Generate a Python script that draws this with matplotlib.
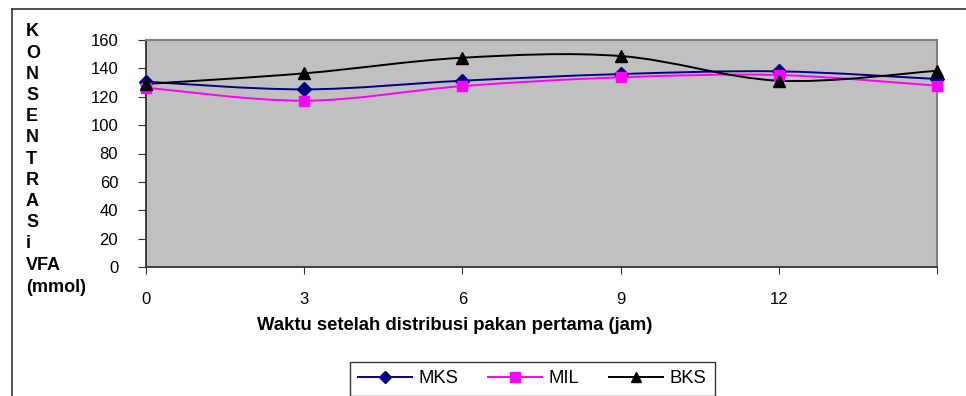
import numpy as np
import matplotlib
matplotlib.use("Agg")
import matplotlib.pyplot as plt
from matplotlib.path import Path
from matplotlib.patches import PathPatch
from matplotlib.lines import Line2D

plt.rcParams['font.family'] = ['Liberation Sans', 'DejaVu Sans']

# data
jam = [0, 3, 6, 9, 12, 15]
x_labels = ["0", "3", "6", "9", "12", ""]
mks = [130.6, 125.2, 131.3, 136.0, 137.9, 132.5]
mil = [126.4, 117.2, 127.5, 133.7, 135.3, 127.8]
bks = [129.0, 136.5, 147.5, 148.7, 131.3, 138.3]

ylabel_lines = ["K", "O", "N", "S", "E", "N", "T", "R", "A", "S", "i", "VFA", "(mmol)"]


def smooth_path(xs, ys):
    # excel-like smoothed line: cubic bezier through every point
    pts = np.column_stack([xs, ys]).astype(float)
    n = len(pts)
    verts = [pts[0]]
    codes = [Path.MOVETO]
    for i in range(n - 1):
        p0 = pts[i - 1] if i > 0 else pts[i]
        p1 = pts[i]
        p2 = pts[i + 1]
        p3 = pts[i + 2] if i + 2 < n else pts[i + 1]
        c1 = p1 + (p2 - p0) / 6.0
        c2 = p2 - (p3 - p1) / 6.0
        verts += [c1, c2, p2]
        codes += [Path.CURVE4] * 3
    return Path(verts, codes)


fig = plt.figure(figsize=(9.66, 3.96), dpi=100)
ax = fig.add_axes([146 / 966, 1 - 267 / 396, (937 - 146) / 966, (267 - 40) / 396])
ax.set_facecolor("#c0c0c0")

series = [("MKS", mks, "#000080", "D", 7),
          ("MIL", mil, "#ff00ff", "s", 7.5),
          ("BKS", bks, "#000000", "^", 8.5)]

handles = []
for name, vals, col, mk, ms in series:
    ax.add_patch(PathPatch(smooth_path(jam, vals), facecolor="none", edgecolor=col, lw=1.4, zorder=3))
    ax.plot(jam, vals, linestyle="none", marker=mk, color=col, markersize=ms, zorder=4, clip_on=False)
    handles.append(Line2D([], [], color=col, lw=1.4, marker=mk, markersize=ms - 1, label=name))

ax.set_xlim(0, 15)
ax.set_ylim(0, 160)
ax.set_xticks(jam)
ax.set_xticklabels(x_labels)
ax.set_yticks(range(0, 161, 20))
ax.tick_params(axis="both", labelsize=12, direction="out", color="#333333")
ax.tick_params(axis="y", length=6, pad=14)
ax.tick_params(axis="x", length=5, pad=13)

for side in ["top", "right"]:
    ax.spines[side].set_color("#808080")
    ax.spines[side].set_linewidth(1.5)
for side in ["left", "bottom"]:
    ax.spines[side].set_color("#333333")
    ax.spines[side].set_linewidth(1.3)

# stacked y label, one line per letter
for i, txt in enumerate(ylabel_lines):
    yp = 32 + i * 21.2 if i < 12 else 288
    fig.text(26 / 966, 1 - yp / 396, txt, fontsize=13, fontweight="bold", ha="left", va="center")

fig.text(455 / 966, 1 - 326 / 396, "Waktu setelah distribusi pakan pertama (jam)",
         fontsize=13.3, fontweight="bold", ha="center", va="center")

leg = fig.legend(handles=handles, loc="upper left", bbox_to_anchor=(350 / 966, 1 - 362 / 396),
                 ncol=3, frameon=True, fancybox=False, fontsize=13.3, handlelength=2.9,
                 columnspacing=1.6, handletextpad=0.38, borderpad=0.45, borderaxespad=0)
leg.get_frame().set_edgecolor("#000000")
leg.get_frame().set_linewidth(1.0)

# outer chart border (left and top)
fig.add_artist(Line2D([12 / 966, 12 / 966], [0, 1 - 9 / 396], color="#333333", lw=1.2))
fig.add_artist(Line2D([12 / 966, 1], [1 - 9 / 396, 1 - 9 / 396], color="#333333", lw=1.2))

fig.savefig("out.png", dpi=100)
